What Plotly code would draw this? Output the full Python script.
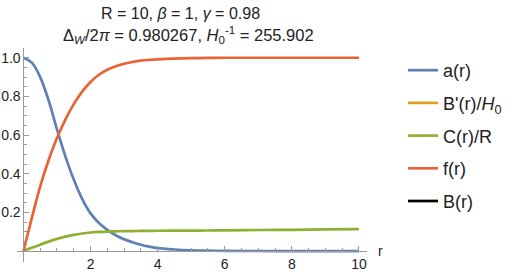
import plotly.graph_objects as go

# ---- data ----
r = [0, 0.25, 0.5, 0.75, 1.0, 1.25, 1.5, 1.75, 2.0, 2.25, 2.5, 2.75, 3.0, 3.25,
     3.5, 3.75, 4.0, 4.5, 5.0, 5.5, 6.0, 7.0, 8.0, 9.0, 10.0]
a_r = [1.0, 0.975, 0.9, 0.78, 0.63, 0.49, 0.37, 0.27, 0.195, 0.145, 0.11, 0.082,
       0.061, 0.046, 0.033, 0.023, 0.015, 0.008, 0.004, 0.002, 0.001, 0.0003, 0.0, 0.0, 0.0]
C_over_R = [0.0, 0.017, 0.033, 0.049, 0.063, 0.075, 0.084, 0.091, 0.096, 0.099, 0.101,
            0.102, 0.103, 0.1035, 0.104, 0.1045, 0.105, 0.1055, 0.106, 0.1065, 0.107,
            0.109, 0.110, 0.112, 0.114]
f_r = [0.0, 0.17, 0.335, 0.47, 0.585, 0.68, 0.76, 0.825, 0.875, 0.912, 0.938, 0.956,
       0.969, 0.978, 0.985, 0.989, 0.992, 0.996, 0.998, 0.999, 1.0, 1.0, 1.0, 1.0, 1.0]
# B'(r)/H0 and B(r) are not visible inside the plotted range
Bprime_over_H0 = [None]
B_r = [None]

x_ticks = [2, 4, 6, 8, 10]
x_ticktext = ["2", "4", "6", "8", "10"]
y_ticks = [0.2, 0.4, 0.6, 0.8, 1.0]
y_ticktext = ["0.2", "0.4", "0.6", "0.8", "1.0"]

names = ["a(r)", "B'(r)/<i>H</i><sub>0</sub>", "C(r)/R", "f(r)", "B(r)"]
colors = ["#5E81B5", "#E19C24", "#8FB032", "#EB6235", "#000000"]

W, H = 523, 274
xr = [-0.2, 10.23]
yr = [-0.055, 1.052]
dx = [16.7 / W, 366.7 / W]
dy = [1 - 261.7 / H, 1 - 47.7 / H]
# paper positions of the data origin
x0_paper = dx[0] + (0 - xr[0]) / (xr[1] - xr[0]) * (dx[1] - dx[0])
y0_paper = dy[0] + (0 - yr[0]) / (yr[1] - yr[0]) * (dy[1] - dy[0])

fig = go.Figure()
series = [(r, a_r), ([None], Bprime_over_H0), (r, C_over_R), (r, f_r), ([None], B_r)]
for i, ((xs, ys), nm, col) in enumerate(zip(series, names, colors)):
    fig.add_trace(go.Scatter(x=xs, y=ys, mode="lines", name=nm,
                             line=dict(color=col, width=2.7, shape="spline", smoothing=1.0),
                             legendgroup=f"g{i}", hoverinfo="skip"))

font_family = "Liberation Sans, Arial, sans-serif"
axis_col = "#9a9a9a"
fig.update_layout(
    width=W, height=H, autosize=False,
    margin=dict(l=0, r=0, t=0, b=0, autoexpand=False),
    paper_bgcolor="white", plot_bgcolor="white",
    font=dict(family=font_family, color="#222"),
    showlegend=True,
    legend=dict(x=403 / W, y=1 - 52 / H, xanchor="left", yanchor="top",
                font=dict(size=18, family=font_family, color="#222"),
                traceorder="grouped", tracegroupgap=6.3, itemwidth=30,
                bgcolor="rgba(0,0,0,0)"),
    xaxis=dict(range=xr, domain=dx, anchor="free", position=y0_paper,
               showgrid=False, zeroline=False, showline=True, linecolor=axis_col, linewidth=1,
               ticks="inside", ticklen=5, tickcolor=axis_col, tickwidth=1,
               tickvals=x_ticks, ticktext=x_ticktext, tickfont=dict(size=14),
               minor=dict(dtick=0.5, tick0=0, ticks="inside", ticklen=3, tickcolor=axis_col,
                          showgrid=False),
               automargin=False),
    yaxis=dict(range=yr, domain=dy, anchor="free", position=x0_paper,
               showgrid=False, zeroline=False, showline=True, linecolor=axis_col, linewidth=1,
               ticks="inside", ticklen=5, tickcolor=axis_col, tickwidth=1,
               tickvals=y_ticks, ticktext=y_ticktext, tickfont=dict(size=14),
               minor=dict(dtick=0.05, tick0=0, ticks="inside", ticklen=3, tickcolor=axis_col,
                          showgrid=False),
               automargin=False),
    annotations=[
        dict(text="R = 10, <i>β</i> = 1, <i>γ</i> = 0.98", x=180 / W, y=1 - 13 / H,
             xref="paper", yref="paper", xanchor="center", yanchor="middle",
             showarrow=False, font=dict(size=16, family=font_family, color="#222")),
        dict(text="Δ<sub><i>W</i></sub>/2<i>π</i> = 0.980267, <i>H</i><sub>0</sub><sup>-1</sup> = 255.902",
             x=188 / W, y=1 - 35.5 / H,
             xref="paper", yref="paper", xanchor="center", yanchor="middle",
             showarrow=False, font=dict(size=16.5, family=font_family, color="#222")),
        dict(text="r", x=376 / W, y=1 - 251 / H, xref="paper", yref="paper",
             xanchor="left", yanchor="middle", showarrow=False,
             font=dict(size=14, family=font_family, color="#222")),
    ],
)

fig.write_html("out.html", config={"displayModeBar": False},
               post_script="document.body.style.margin='0px';document.body.style.overflow='hidden';")
